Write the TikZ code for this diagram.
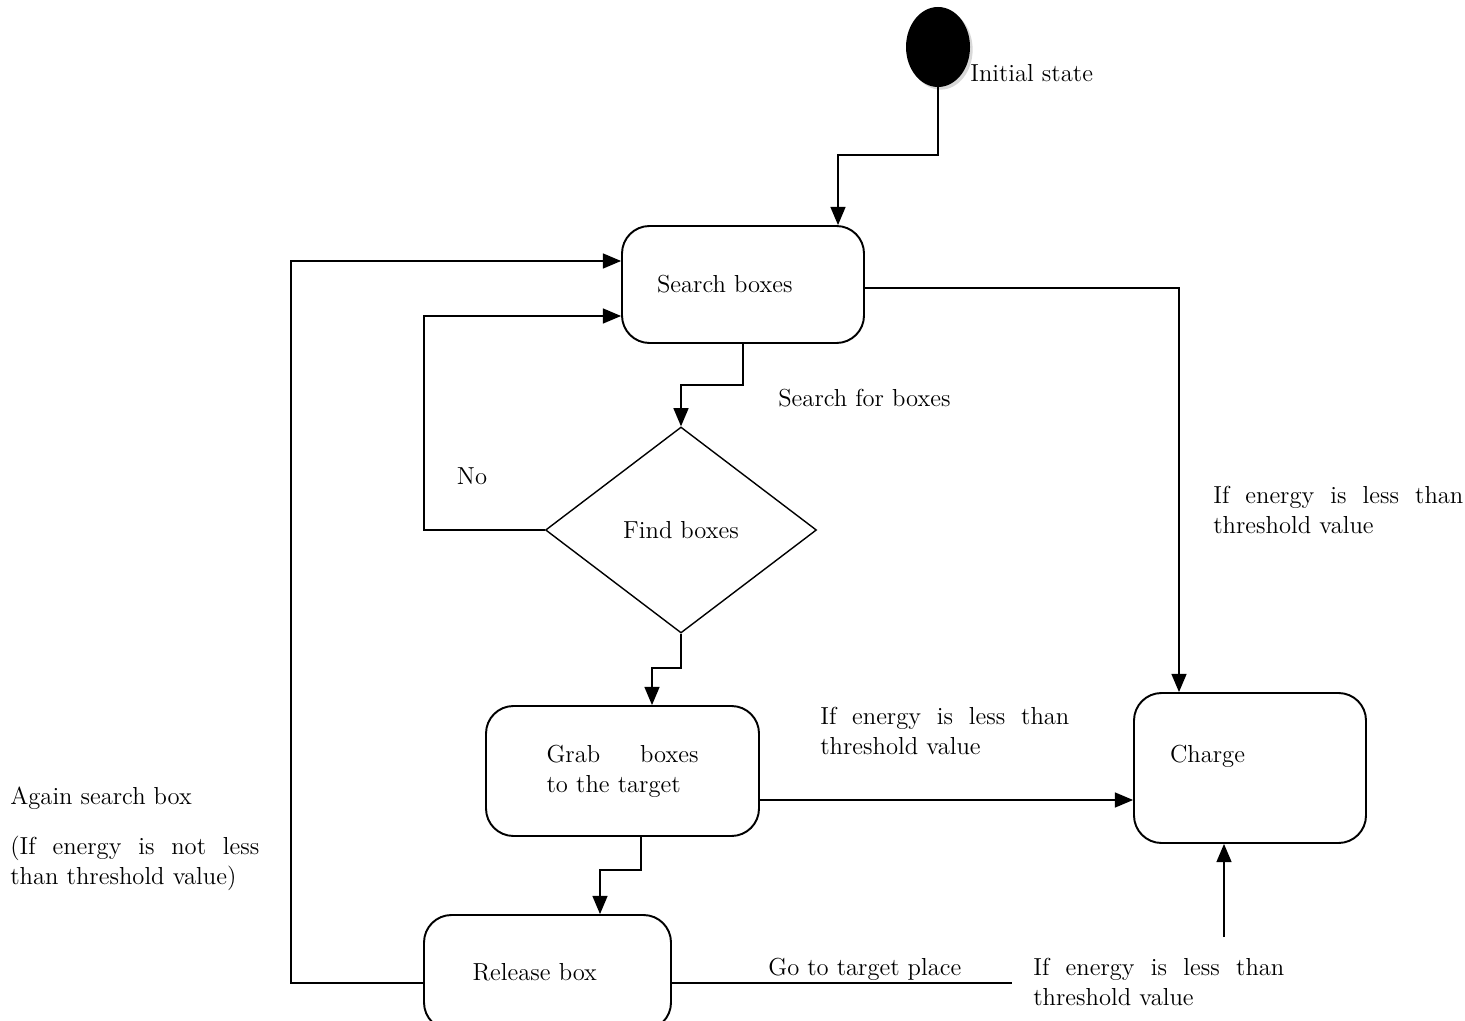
\documentclass[tikz,border=0pt]{standalone}
\usepackage{tikz}
\usetikzlibrary{shadows,arrows,positioning,shapes.geometric,calc}
\tikzstyle{state}=[draw, line width=1.1pt, rounded corners=0.55cm, text centered]
\tikzstyle{decide}=[diamond, draw, line width=0.8pt, inner sep=0pt, text centered]
\tikzstyle{start}=[ellipse, fill=black, minimum width=1.28cm, minimum height=1.6cm,
drop shadow={shadow xshift=1.5pt, shadow yshift=-1.5pt, fill=black!30}]
\tikzstyle{line}=[draw, line width=1.4pt, -triangle 45]
\tikzstyle{wire}=[draw, line width=1.4pt]
\tikzstyle{note}=[anchor=west, inner sep=0pt, align=left]
\newcommand{\stbox}[5]{node (#1)[state, minimum width=#2, minimum height=#3, #4]{#5}}

\begin{document}
\begin{tikzpicture}[font=\fontsize{14}{17}\selectfont]
	\useasboundingbox (0,0) rectangle (29.3,-20.42);

	% Draw diagram elements
	\node (init)[start] at (18.76,-0.94) {};
	\node (initl)[note] at (19.4,-1.46) {Initial state};

	\path (14.86,-5.69) \stbox{search}{4.84cm}{2.34cm}{text width=3.44cm, align=left}{Search boxes};
	\node (find)[decide, minimum width=5.42cm, minimum height=4.12cm] at (13.62,-10.6) {Find boxes};
	\path (12.45,-15.42) \stbox{grab}{5.46cm}{2.6cm}{text width=3.04cm, align=left}{Grab\hfill boxes\\to the target};
	\path (10.95,-19.45) \stbox{release}{4.94cm}{2.3cm}{text width=3.0cm, align=left}{Release box};
	\path (25.0,-15.36) \stbox{charge}{4.64cm}{3.0cm}{text width=3.2cm, align=left, text depth=0.55cm}{Charge};

	% labels
	\node (lsearch)[note] at (15.56,-7.96) {Search for boxes};
	\node (lno) at (9.44,-9.52) {No};
	\node (ltop)[note, text width=5.0cm] at (24.26,-10.2) {If\hfill energy\hfill is\hfill less\hfill than\\threshold value};
	\node (lmid)[note, text width=4.98cm] at (16.4,-14.62) {If\hfill energy\hfill is\hfill less\hfill than\\threshold value};
	\node (lbot)[note, text width=5.02cm] at (20.66,-19.64) {If\hfill energy\hfill is\hfill less\hfill than\\threshold value};
	\node (lgo)[note] at (15.36,-19.38) {Go to target place};
	\node (lagain)[note] at (0.2,-15.96) {Again search box};
	\node (lnot)[note, text width=4.98cm] at (0.2,-17.26) {(If\hfill energy\hfill is\hfill not\hfill less\\than threshold value)};

	% bends
	\coordinate (b1) at (16.76,-3.1);
	\coordinate (b2) at (23.58,-5.76);
	\coordinate (b3) at (13.62,-7.7);
	\coordinate (b4) at (8.48,-6.32);
	\coordinate (b5) at (13.04,-13.36);
	\coordinate (b6) at (12.0,-17.4);
	\coordinate (b7) at (5.82,-5.22);
	\coordinate (b8) at (20.24,-19.66);
	\coordinate (b9) at (24.48,-18.74);
	\coordinate (b10) at (0,-16.0);
	\coordinate (b11) at (0,-19.66);

	% Draw arrows between elements
	\path [line] (init.south) |- (b1) -- (b1 |- search.north);
	\path [line] (search.east |- b2) -| (b2 |- charge.north);
	\path [line] (search.south) |- (b3) -- (find.north);
	\path [line] (find.west) -| (b4) -- (b4 -| search.west);
	\path [line] (find.south) |- (b5) -- (b5 |- grab.north);
	\path [line] (grab.east |- b10) -- (charge.west |- b10);
	\path [line] (grab.south -| 12.82,0) |- (b6) -- (b6 |- release.north);
	\path [line] (release.west |- b11) -| (b7) -- (b7 -| search.west);
	\path [wire] (release.east |- b11) -- (b8);
	\path [line] (b9) -- (b9 |- charge.south);
\end{tikzpicture}
\end{document}
